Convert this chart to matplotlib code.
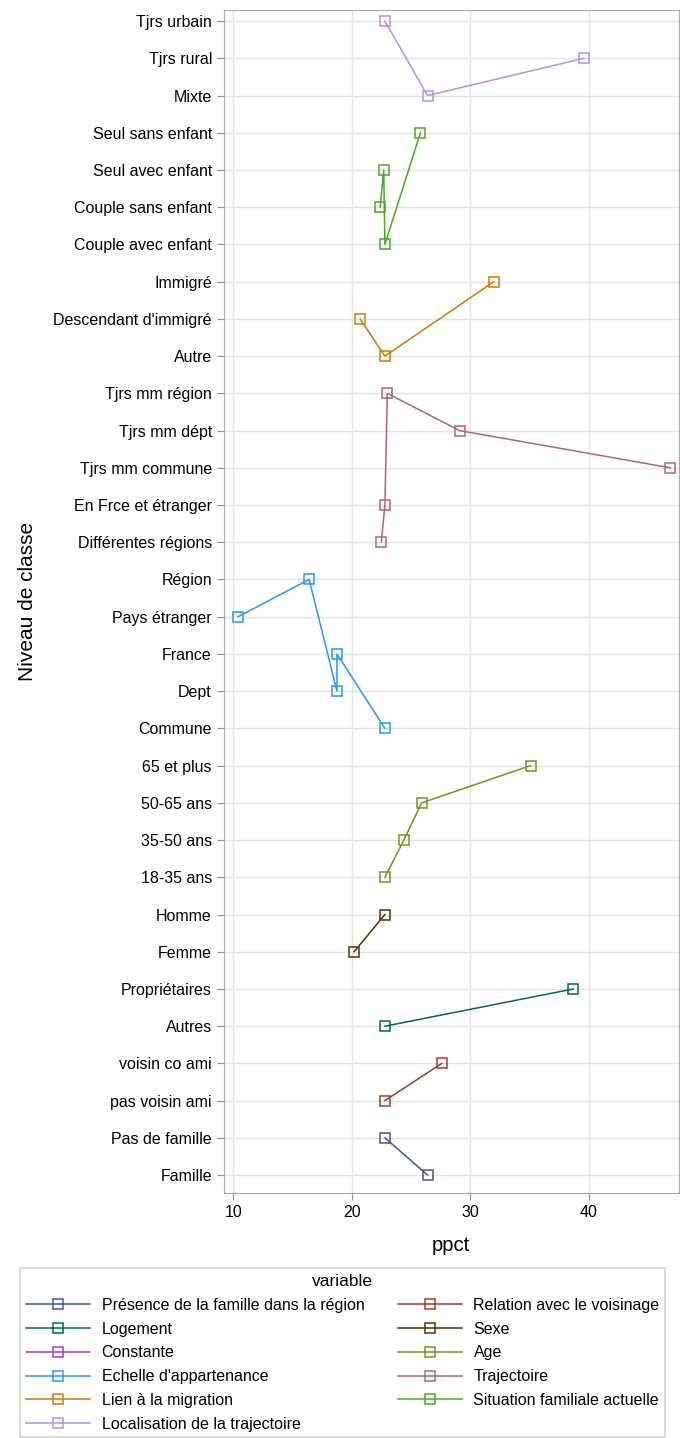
import matplotlib
matplotlib.use("Agg")
import matplotlib.pyplot as plt

plt.rcParams['font.family'] = ['Liberation Sans', 'DejaVu Sans']

# y levels, bottom to top
levels = ["Famille", "Pas de famille", "pas voisin ami", "voisin co ami",
          "Autres", "Propriétaires", "Femme", "Homme",
          "18-35 ans", "35-50 ans", "50-65 ans", "65 et plus",
          "Commune", "Dept", "France", "Pays étranger", "Région",
          "Différentes régions", "En Frce et étranger", "Tjrs mm commune",
          "Tjrs mm dépt", "Tjrs mm région",
          "Autre", "Descendant d'immigré", "Immigré",
          "Couple avec enfant", "Couple sans enfant", "Seul avec enfant",
          "Seul sans enfant", "Mixte", "Tjrs rural", "Tjrs urbain"]

# one pair of lists per variable (points joined in this order)
famille_lvl = ["Pas de famille", "Famille"]
famille_val = [22.8, 26.4]
voisin_lvl = ["pas voisin ami", "voisin co ami"]
voisin_val = [22.8, 27.6]
logement_lvl = ["Autres", "Propriétaires"]
logement_val = [22.8, 38.7]
sexe_lvl = ["Femme", "Homme"]
sexe_val = [20.2, 22.8]
constante_lvl = []
constante_val = []
age_lvl = ["18-35 ans", "35-50 ans", "50-65 ans", "65 et plus"]
age_val = [22.8, 24.4, 25.9, 35.1]
echelle_lvl = ["Pays étranger", "Région", "Dept", "France", "Commune"]
echelle_val = [10.4, 16.4, 18.75, 18.75, 22.8]
traj_lvl = ["Différentes régions", "En Frce et étranger", "Tjrs mm région",
            "Tjrs mm dépt", "Tjrs mm commune"]
traj_val = [22.5, 22.8, 23.0, 29.1, 46.9]
migr_lvl = ["Descendant d'immigré", "Autre", "Immigré"]
migr_val = [20.7, 22.8, 32.0]
situ_lvl = ["Couple sans enfant", "Seul avec enfant", "Couple avec enfant", "Seul sans enfant"]
situ_val = [22.4, 22.7, 22.8, 25.8]
local_lvl = ["Tjrs urbain", "Mixte", "Tjrs rural"]
local_val = [22.8, 26.4, 39.6]

series = [
    ("Présence de la famille dans la région", famille_lvl, famille_val, "#445694"),
    ("Relation avec le voisinage", voisin_lvl, voisin_val, "#A23A2E"),
    ("Logement", logement_lvl, logement_val, "#01665E"),
    ("Sexe", sexe_lvl, sexe_val, "#543005"),
    ("Constante", constante_lvl, constante_val, "#9D3CDB"),
    ("Age", age_lvl, age_val, "#7F8E1F"),
    ("Echelle d'appartenance", echelle_lvl, echelle_val, "#2597FA"),
    ("Trajectoire", traj_lvl, traj_val, "#B26084"),
    ("Lien à la migration", migr_lvl, migr_val, "#D17800"),
    ("Situation familiale actuelle", situ_lvl, situ_val, "#47A82A"),
    ("Localisation de la trajectoire", local_lvl, local_val, "#B38EF3"),
]

fig = plt.figure(figsize=(6.8, 14.38), dpi=100)
ax = fig.add_axes([0.329, 0.1704, 0.669, 0.8227])

handles = {}
for name, lvl, val, col in series:
    ypos = [levels.index(l) for l in lvl]
    h, = ax.plot(val, ypos, color=col, lw=1.1, marker='s', ms=6.5,
                 mfc='none', mec=col, mew=1.1, label=name, zorder=3)
    handles[name] = h

ax.set_yticks(range(len(levels)))
ax.set_yticklabels(levels)
ax.set_ylim(-0.48, len(levels) - 1 + 0.3)
ax.set_xlim(9.19, 47.6)
ax.set_xticks([10, 20, 30, 40])

ax.grid(True, color='#e4e4e4', lw=1, zorder=0)
ax.set_axisbelow(True)
for s in ax.spines.values():
    s.set_color('#a8a8a8')
ax.tick_params(colors='#909090', labelcolor='black', labelsize=11.5, length=5)

ax.set_xlabel("ppct", fontsize=14.5, labelpad=12)
ax.set_ylabel("Niveau de classe", fontsize=15, labelpad=12)

# legend filled column by column: col1 = odd entries, col2 = even entries
names = [s[0] for s in series]
order = names[0::2] + names[1::2]
leg = fig.legend([handles[n] for n in order], order, title="variable",
                 ncol=2, loc='upper left', bbox_to_anchor=(0.018, 0.002, 0.972, 0.1215),
                 mode='expand', fontsize=11.5, title_fontsize=12.5, frameon=True,
                 fancybox=False, edgecolor='#c8c8c8', handlelength=4.0,
                 handletextpad=0.75, labelspacing=0.55, borderpad=0.35,
                 columnspacing=1.5)
leg.get_frame().set_linewidth(1.2)

fig.savefig("out.png", dpi=100)
